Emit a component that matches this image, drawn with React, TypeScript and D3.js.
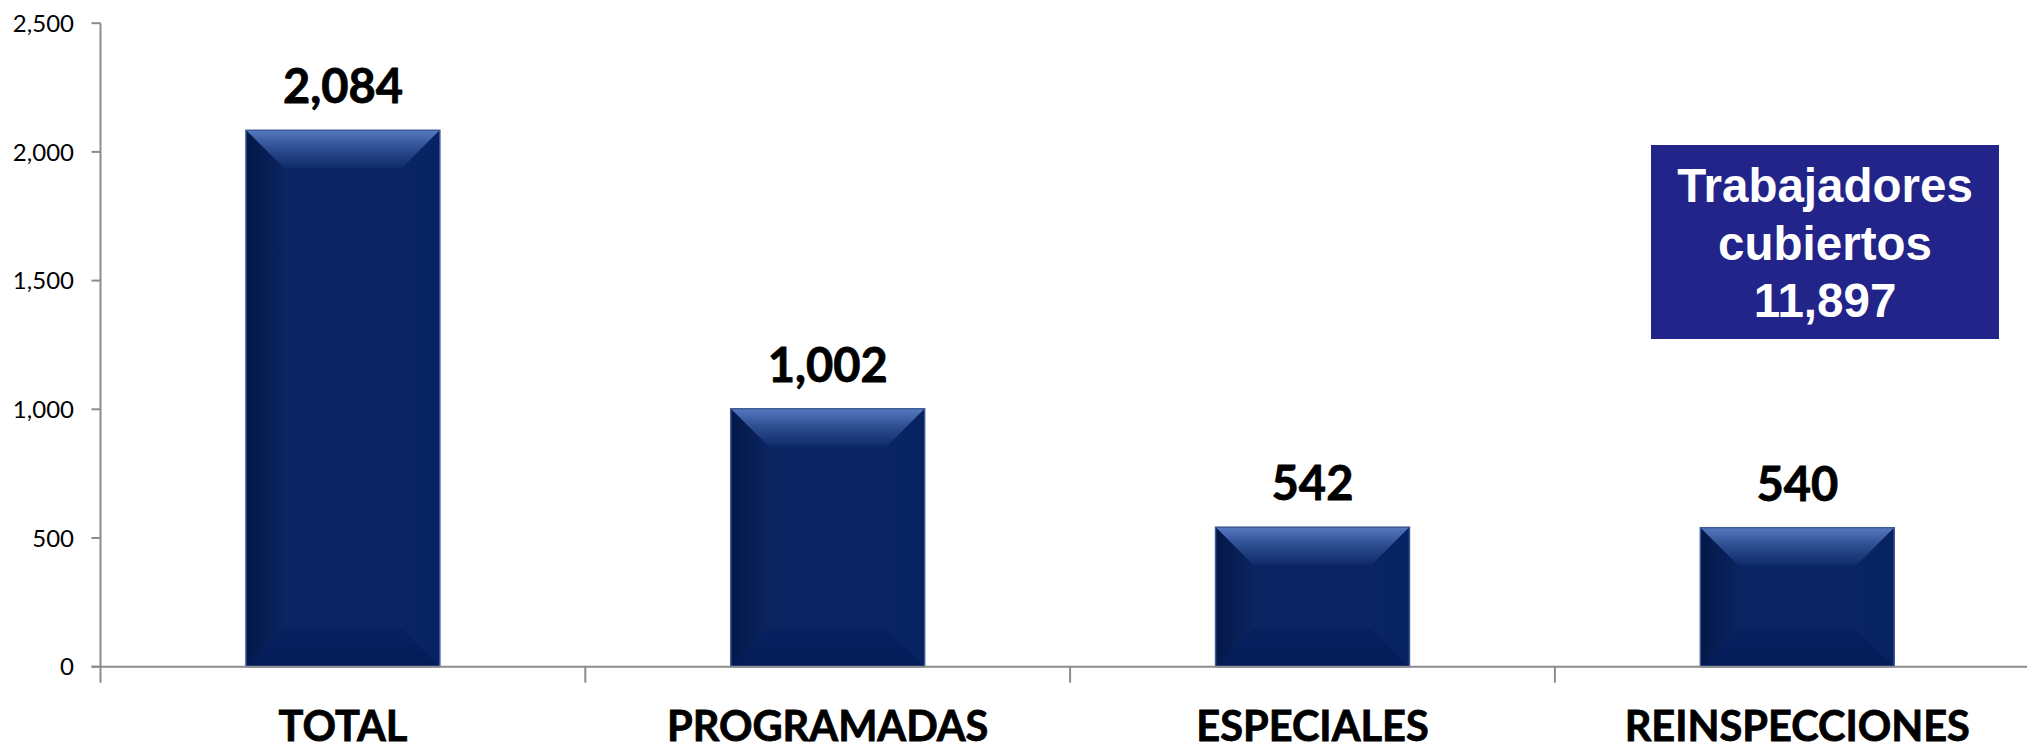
import React from "react";
import * as d3 from "d3";

const categories: string[] = ["TOTAL", "PROGRAMADAS", "ESPECIALES", "REINSPECCIONES"];
const values: number[] = [2084, 1002, 542, 540];
const yTicks: number[] = [0, 500, 1000, 1500, 2000, 2500];
const boxLines: string[] = ["Trabajadores", "cubiertos", "11,897"];

const W = 2027;
const H = 745;
const axisX = 100.5;
const step = 484.8;
const y0 = 666.7;
const yTop = 23.2;
const bevel = 38;

export default function App() {
  const x = d3
    .scaleBand<string>()
    .domain(categories)
    .range([axisX, axisX + step * categories.length])
    .padding(0);
  const y = d3.scaleLinear().domain([0, 2500]).range([y0, yTop]);
  const fmt = d3.format(",");
  const bw = x.bandwidth() * 0.4;

  return (
    <svg
      width={W}
      height={H}
      style={{ position: "fixed", left: 0, top: 0, background: "#fff" }}
    >
      <defs>
        <linearGradient id="gTop" x1="0" y1="0" x2="0" y2="1">
          <stop offset="0" stopColor="#5679BF" />
          <stop offset="0.45" stopColor="#2F4F93" />
          <stop offset="1" stopColor="#0E2A68" />
        </linearGradient>
        <linearGradient id="gLeft" x1="0" y1="0" x2="1" y2="0">
          <stop offset="0" stopColor="#041848" />
          <stop offset="1" stopColor="#0A2460" />
        </linearGradient>
        <linearGradient id="gBottom" x1="0" y1="0" x2="0" y2="1">
          <stop offset="0" stopColor="#07215F" />
          <stop offset="1" stopColor="#031C58" />
        </linearGradient>
        <linearGradient id="gRight" x1="0" y1="0" x2="1" y2="0">
          <stop offset="0" stopColor="#0A2563" />
          <stop offset="1" stopColor="#062262" />
        </linearGradient>
      </defs>

      {/* y axis */}
      <line x1={axisX} x2={axisX} y1={yTop} y2={y0 + 16} stroke="#8C8C8C" strokeWidth={2} />
      {yTicks.map((t) => (
        <g key={t}>
          <line x1={axisX - 9} x2={axisX} y1={y(t)} y2={y(t)} stroke="#8C8C8C" strokeWidth={2} />
          <text
            x={74}
            y={y(t)}
            dy="0.36em"
            textAnchor="end"
            fontFamily="Lato, 'Open Sans', sans-serif"
            fontSize={24}
            fill="#000"
          >
            {fmt(t)}
          </text>
        </g>
      ))}

      {/* bars */}
      {categories.map((c, i) => {
        const cx = (x(c) as number) + x.bandwidth() / 2;
        const xa = cx - bw / 2;
        const xb = cx + bw / 2;
        const ya = y(values[i]);
        const yb = y(0);
        const b = Math.min(bevel, (yb - ya) / 2);
        return (
          <g key={c}>
            <rect x={xa} y={ya} width={bw} height={yb - ya} fill="#0A2561" />
            <polygon
              points={`${xa},${ya} ${xb},${ya} ${xb - b},${ya + b} ${xa + b},${ya + b}`}
              fill="url(#gTop)"
            />
            <polygon
              points={`${xa},${ya} ${xa + b},${ya + b} ${xa + b},${yb - b} ${xa},${yb}`}
              fill="url(#gLeft)"
            />
            <polygon
              points={`${xa},${yb} ${xa + b},${yb - b} ${xb - b},${yb - b} ${xb},${yb}`}
              fill="url(#gBottom)"
            />
            <polygon
              points={`${xb},${ya} ${xb},${yb} ${xb - b},${yb - b} ${xb - b},${ya + b}`}
              fill="url(#gRight)"
            />
            <rect
              x={xa}
              y={ya}
              width={bw}
              height={yb - ya}
              fill="none"
              stroke="#3D5A96"
              strokeWidth={1.5}
            />
            <text
              x={cx}
              y={ya - 27}
              textAnchor="middle"
              fontFamily="Lato, 'Open Sans', sans-serif"
              fontWeight={700}
              fontSize={47}
              fill="#000"
              stroke="#000"
              strokeWidth={0.8}
            >
              {fmt(values[i])}
            </text>
            <text
              x={cx}
              y={741}
              textAnchor="middle"
              fontFamily="Lato, 'Open Sans', sans-serif"
              fontWeight={700}
              fontSize={41.5}
              fill="#000"
              stroke="#000"
              strokeWidth={0.8}
            >
              {c}
            </text>
          </g>
        );
      })}

      {/* x axis */}
      <line x1={axisX - 9} x2={W} y1={y0} y2={y0} stroke="#8C8C8C" strokeWidth={2} />
      {categories.map((c, i) =>
        i === 0 ? null : (
          <line
            key={c}
            x1={x(c) as number}
            x2={x(c) as number}
            y1={y0}
            y2={y0 + 16}
            stroke="#8C8C8C"
            strokeWidth={2}
          />
        )
      )}

      {/* info box */}
      <rect x={1651} y={145} width={348} height={194} fill="#22248A" />
      {boxLines.map((l, i) => (
        <text
          key={l}
          x={1825}
          y={202 + i * 57.5}
          textAnchor="middle"
          fontFamily="'Liberation Sans', Arial, sans-serif"
          fontWeight={700}
          fontSize={47.5}
          fill="#fff"
        >
          {l}
        </text>
      ))}
    </svg>
  );
}
